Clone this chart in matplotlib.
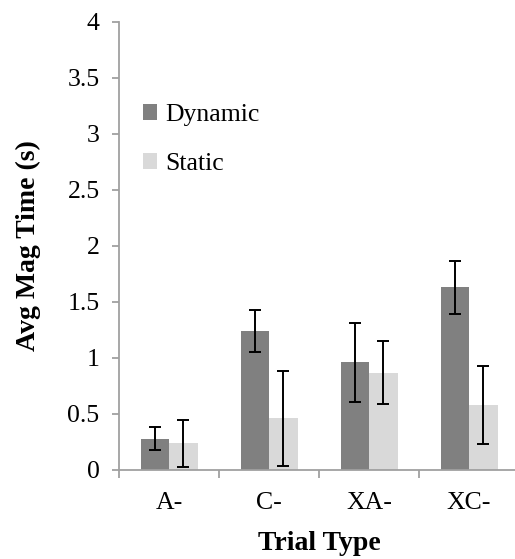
import numpy as np
import matplotlib.pyplot as plt

# values
categories = ['A-', 'C-', 'XA-', 'XC-']
dynamic = [0.28, 1.24, 0.96, 1.63]
dynamic_err = [0.10, 0.19, 0.35, 0.235]
static = [0.24, 0.46, 0.87, 0.58]
static_err = [0.21, 0.42, 0.28, 0.345]

plt.rcParams['font.family'] = ['Liberation Serif', 'DejaVu Serif']

fig = plt.figure(figsize=(5.15, 5.59), dpi=100)
ax = fig.add_axes([119 / 515, 1 - 470 / 559, 400 / 515, 448 / 559])

x = np.arange(len(categories))
w = 0.285
ax.bar(x - w / 2, dynamic, w, color='#808080', label='Dynamic', zorder=2)
ax.bar(x + w / 2, static, w, color='#d9d9d9', label='Static', zorder=2)
ax.errorbar(x - w / 2, dynamic, yerr=dynamic_err, fmt='none', ecolor='black',
            elinewidth=1.4, capsize=4.5, capthick=1.4, zorder=3)
ax.errorbar(x + w / 2, static, yerr=static_err, fmt='none', ecolor='black',
            elinewidth=1.4, capsize=4.5, capthick=1.4, zorder=3)

ax.set_xlim(-0.5, 3.5)
ax.set_ylim(0, 4)
ax.set_yticks(np.arange(0, 4.01, 0.5))
ax.set_yticklabels(['0', '0.5', '1', '1.5', '2', '2.5', '3', '3.5', '4'])
ax.set_xticks(x)
ax.set_xticklabels(categories)
ax.set_xticks(np.arange(-0.5, 3.6, 1), minor=True)

for s in ['top', 'right']:
    ax.spines[s].set_visible(False)
for s in ['left', 'bottom']:
    ax.spines[s].set_color('#a0a0a0')
    ax.spines[s].set_linewidth(1.3)

ax.tick_params(axis='x', which='major', length=0, pad=16, labelsize=18.5)
ax.tick_params(axis='x', which='minor', length=6, width=1.3, color='#a0a0a0')
ax.tick_params(axis='y', length=5, width=1.3, color='#a0a0a0', labelsize=18.5, pad=9)

ax.set_xlabel('Trial Type', fontsize=20, fontweight='bold', labelpad=12)
ax.set_ylabel('Avg Mag Time (s)', fontsize=20, fontweight='bold', labelpad=19)

ax.legend(loc='upper left', bbox_to_anchor=(143 / 515, 1 - 104 / 559),
          bbox_transform=fig.transFigure, frameon=False, fontsize=18.5,
          handlelength=0.55, handleheight=0.55, handletextpad=0.3,
          labelspacing=1.06, borderpad=0, borderaxespad=0)

fig.savefig('out.png', dpi=100)
